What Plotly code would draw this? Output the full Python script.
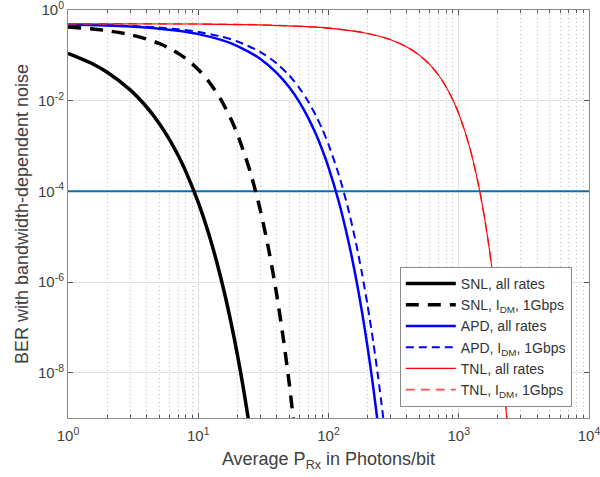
import plotly.graph_objects as go

# ---- data ----
snl_x = [1, 1.5, 2, 3, 4, 5, 6, 7, 8, 10, 12, 14, 16, 18, 20, 22, 24, 25]
snl_y = [0.111, 0.0676, 0.0423, 0.0173, 0.00734, 0.00319, 0.0014, 6.23e-4, 2.79e-4,
         5.72e-5, 1.19e-5, 2.5e-6, 5.3e-7, 1.13e-7, 2.44e-8, 5.27e-9, 1.14e-9, 5.3e-10]

snl_dm_x = [1, 1.5, 2, 3, 4, 5, 6, 8, 10, 12, 15, 18, 20, 25, 30, 35, 40, 45, 50, 55]
snl_dm_y = [0.4215, 0.3847, 0.3497, 0.2856, 0.23, 0.1828, 0.1434, 0.0853, 0.0487, 0.0268,
            0.01025, 0.00369, 0.00181, 2.76e-4, 3.76e-5, 4.65e-6, 5.3e-7, 5.6e-8, 5.6e-9, 5.3e-10]

apd_x = [1, 2, 3, 5, 7, 10, 15, 20, 30, 40, 50, 60, 70, 80, 90, 100, 120, 140, 160, 180, 200, 220, 240]
apd_y = [0.476, 0.4526, 0.43, 0.3872, 0.3475, 0.2937, 0.2189, 0.1606, 0.0832, 0.0412, 0.0197,
         0.00916, 0.00413, 0.00183, 7.94e-4, 3.38e-4, 5.9e-5, 9.7e-6, 1.54e-6, 2.35e-7, 3.5e-8,
         5.05e-9, 7.1e-10]

apd_dm_x = [1, 2, 3, 5, 7, 10, 15, 20, 30, 40, 50, 60, 70, 80, 90, 100, 120, 140, 160, 180, 200,
            220, 240, 260, 270]
apd_dm_y = [0.481, 0.4624, 0.4441, 0.4088, 0.3753, 0.3285, 0.2597, 0.2024, 0.1184, 0.0663, 0.0358,
            0.0187, 0.00946, 0.0047, 0.00228, 0.00108, 2.32e-4, 4.69e-5, 9.0e-6, 1.65e-6, 2.93e-7,
            5.0e-8, 8.4e-9, 1.34e-9, 5.4e-10]

tnl_x = [1, 10, 30, 100, 200, 300, 400, 500, 600, 700, 800, 900, 1000, 1200, 1400, 1600, 1800,
         2000, 2200, 2400]
tnl_y = [0.499, 0.4898, 0.4693, 0.3988, 0.304, 0.2209, 0.1525, 0.0999, 0.062, 0.0363, 0.0201,
         0.0105, 0.00517, 0.001045, 1.65e-4, 2.04e-5, 1.96e-6, 1.46e-7, 8.5e-9, 3.8e-10]

tnl_dm_x = tnl_x
tnl_dm_y = tnl_y

threshold_x = [1, 10000]
threshold_y = [1e-4, 1e-4]

x_tick_vals = [1, 10, 100, 1000, 10000]
x_tick_text = ['10<sup>0</sup>', '10<sup>1</sup>', '10<sup>2</sup>', '10<sup>3</sup>', '10<sup>4</sup>']
y_tick_vals = [1e-8, 1e-6, 1e-4, 1e-2, 1]
y_tick_text = ['10<sup>-8</sup>', '10<sup>-6</sup>', '10<sup>-4</sup>', '10<sup>-2</sup>', '10<sup>0</sup>']

x_minor = [m * d for d in (1, 10, 100, 1000) for m in range(2, 10)]

names = ['SNL, all rates', 'SNL, I<sub>DM</sub>, 1Gbps',
         'APD, all rates', 'APD, I<sub>DM</sub>, 1Gbps',
         'TNL, all rates', 'TNL, I<sub>DM</sub>, 1Gbps']

fig = go.Figure()

fig.add_trace(go.Scatter(x=threshold_x, y=threshold_y, mode='lines', showlegend=False,
                         line=dict(color='#0072BD', width=2)))

series = [
    (snl_x, snl_y, dict(color='black', width=3.5), 1),
    (snl_dm_x, snl_dm_y, dict(color='black', width=3.5, dash='13px,9px'), 2),
    (apd_x, apd_y, dict(color='#0000ff', width=2.5), 3),
    (apd_dm_x, apd_dm_y, dict(color='#0000ff', width=2, dash='8px,5px'), 4),
    (tnl_dm_x, tnl_dm_y, dict(color='#ff4d4d', width=1.6, dash='9px,6px'), 6),
    (tnl_x, tnl_y, dict(color='#ff0000', width=1.1), 5),
]
name_by_rank = {i + 1: n for i, n in enumerate(names)}
for xs, ys, ln, rank in series:
    fig.add_trace(go.Scatter(x=xs, y=ys, mode='lines', name=name_by_rank[rank], legendrank=rank,
                             line=dict(shape='spline', smoothing=0.8, **ln)))

axis_common = dict(
    type='log', showline=True, linecolor='#8a8a8a', linewidth=1, mirror='allticks',
    ticks='inside', ticklen=5, tickcolor='#555', showgrid=True, gridcolor='#e3e3e3',
    zeroline=False, tickfont=dict(size=15, color='#404040'), automargin=False,
    ticklabeloverflow='allow',
)

fig.update_layout(
    width=600, height=477,
    margin=dict(l=68, r=11, t=10, b=59),
    paper_bgcolor='white', plot_bgcolor='white',
    font=dict(family='Liberation Sans, Arial, sans-serif', color='#404040'),
    xaxis=dict(range=[0, 4], tickvals=x_tick_vals, ticktext=x_tick_text, ticklabelstandoff=4,
               title=dict(text='Average P<sub>Rx</sub> in Photons/bit', font=dict(size=18), standoff=9),
               minor=dict(tickvals=x_minor, ticks='inside', ticklen=3, tickcolor='#555',
                          showgrid=True, griddash='1px,3px', gridcolor='#bdbdbd'),
               **axis_common),
    yaxis=dict(range=[-9, 0], tickvals=y_tick_vals, ticktext=y_tick_text,
               title=dict(text='BER with bandwidth-dependent noise', font=dict(size=18), standoff=4),
               **axis_common),
    legend=dict(x=0.967, y=0.027, xanchor='right', yanchor='bottom',
                bgcolor='white', bordercolor='#8a8a8a', borderwidth=1,
                font=dict(size=14, color='#333'), itemwidth=50, tracegroupgap=0),
    showlegend=True,
)

fig.write_html('out.html')
